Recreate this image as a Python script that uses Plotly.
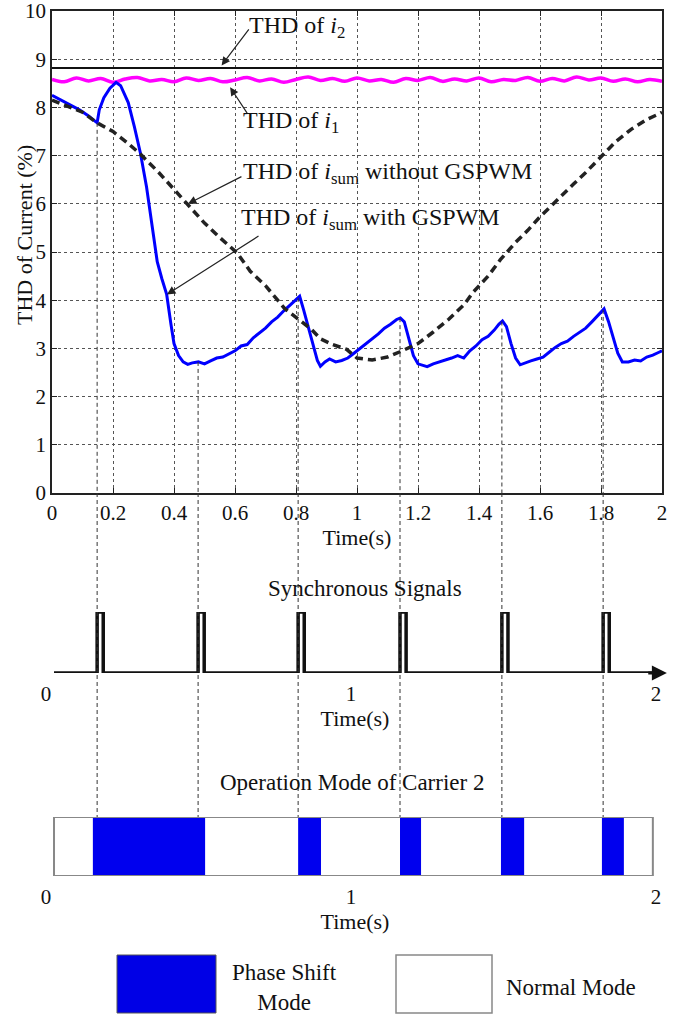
import numpy as np
import plotly.graph_objects as go

FONT = "Liberation Serif, Times New Roman, serif"

# ---------------- data (top panel) ----------------
blue_t = [0, 0.03, 0.06, 0.09, 0.12, 0.148, 0.155, 0.17, 0.19, 0.21, 0.225, 0.25, 0.27, 0.29, 0.31,
          0.33, 0.345, 0.36, 0.376, 0.39, 0.40, 0.415, 0.43, 0.445, 0.46, 0.48, 0.50, 0.52, 0.54, 0.56,
          0.58, 0.60, 0.62, 0.64, 0.66, 0.68, 0.70, 0.72, 0.74, 0.76, 0.78, 0.80, 0.812, 0.825, 0.84,
          0.855, 0.87, 0.88, 0.895, 0.91, 0.93, 0.95, 0.97, 0.99, 1.01, 1.03, 1.05, 1.07, 1.09, 1.11,
          1.13, 1.142, 1.155, 1.17, 1.185, 1.20, 1.215, 1.23, 1.25, 1.27, 1.29, 1.31, 1.33, 1.35, 1.37,
          1.39, 1.41, 1.43, 1.45, 1.465, 1.477, 1.49, 1.505, 1.52, 1.535, 1.55, 1.57, 1.59, 1.61, 1.63,
          1.65, 1.67, 1.69, 1.71, 1.73, 1.75, 1.77, 1.79, 1.81, 1.825, 1.84, 1.855, 1.87, 1.89, 1.91,
          1.93, 1.95, 1.97, 1.99, 2.0]
blue_v = [8.25, 8.15, 8.05, 7.95, 7.82, 7.68, 7.95, 8.2, 8.4, 8.52, 8.45, 8.1, 7.6, 7.05, 6.35,
          5.5, 4.8, 4.45, 4.12, 3.5, 3.1, 2.85, 2.72, 2.67, 2.7, 2.72, 2.68, 2.74, 2.8, 2.82,
          2.88, 2.95, 3.05, 3.08, 3.22, 3.32, 3.42, 3.55, 3.65, 3.78, 3.9, 4.0, 4.08, 3.8, 3.45,
          3.05, 2.75, 2.63, 2.72, 2.78, 2.72, 2.75, 2.8, 2.9, 3.0, 3.1, 3.2, 3.3, 3.42, 3.5,
          3.6, 3.63, 3.55, 3.2, 2.85, 2.68, 2.65, 2.62, 2.68, 2.72, 2.75, 2.8, 2.85, 2.8, 2.95,
          3.05, 3.18, 3.25, 3.38, 3.5, 3.57, 3.45, 3.1, 2.8, 2.66, 2.7, 2.74, 2.78, 2.82, 2.92,
          3.02, 3.1, 3.15, 3.25, 3.33, 3.42, 3.55, 3.68, 3.82, 3.55, 3.2, 2.9, 2.72, 2.72, 2.76,
          2.74, 2.82, 2.86, 2.92, 2.95]

nogs_t = [0, 0.1, 0.148, 0.2, 0.25, 0.29, 0.35, 0.4, 0.446, 0.5, 0.55, 0.607, 0.65, 0.7, 0.764,
          0.8, 0.85, 0.88, 0.92, 0.966, 1.0, 1.05, 1.1, 1.141, 1.2, 1.25, 1.3, 1.35, 1.38, 1.43,
          1.47, 1.52, 1.56, 1.6, 1.65, 1.71, 1.75, 1.81, 1.85, 1.9, 1.95, 1.985, 2.0]
nogs_v = [8.15, 7.9, 7.68, 7.5, 7.25, 7.03, 6.65, 6.3, 6.0, 5.6, 5.3, 4.98, 4.6, 4.3, 3.82,
          3.65, 3.4, 3.2, 3.08, 2.98, 2.8, 2.76, 2.82, 2.93, 3.1, 3.34, 3.6, 3.9, 4.16, 4.5,
          4.84, 5.2, 5.45, 5.73, 6.05, 6.41, 6.65, 7.03, 7.3, 7.55, 7.75, 7.85, 7.9]

i1_t = [0.00, 0.04, 0.08, 0.12, 0.16, 0.20, 0.24, 0.28, 0.32, 0.36, 0.40, 0.44, 0.48, 0.52, 0.56,
        0.60, 0.64, 0.68, 0.72, 0.76, 0.80, 0.84, 0.88, 0.92, 0.96, 1.00, 1.04, 1.08, 1.12, 1.16,
        1.20, 1.24, 1.28, 1.32, 1.36, 1.40, 1.44, 1.48, 1.52, 1.56, 1.60, 1.64, 1.68, 1.72, 1.76,
        1.80, 1.84, 1.88, 1.92, 1.96, 2.00]
i1_v = [8.58, 8.53, 8.61, 8.55, 8.60, 8.52, 8.59, 8.62, 8.55, 8.58,
        8.53, 8.61, 8.56, 8.60, 8.53, 8.57, 8.62, 8.55, 8.59, 8.52,
        8.58, 8.63, 8.56, 8.60, 8.54, 8.61, 8.55, 8.58, 8.52, 8.60,
        8.56, 8.62, 8.54, 8.59, 8.55, 8.61, 8.53, 8.58, 8.56, 8.62,
        8.54, 8.60, 8.55, 8.63, 8.57, 8.61, 8.54, 8.59, 8.53, 8.58, 8.54]

i2_t = [0.0, 2.0]
i2_v = [8.82, 8.82]

# ---------------- data (schematic panels) ----------------
sync_t = [0.148, 0.479, 0.807, 1.141, 1.475, 1.807]   # synchronous signal instants (s)
pulse_w = 0.02
sync_axis = [0.0066, 2.0, 2.016]                       # baseline start, end, arrow tip

mode_start = [0.134, 0.807, 1.141, 1.472, 1.803]       # phase-shift mode intervals
mode_end = [0.502, 0.882, 1.210, 1.548, 1.875]
mode_bar = [0.0066, 1.970]

lower_ticks = [0, 1, 2]

# ---------------- layout geometry ----------------
W, H = 697, 1016
def px_x(p): return p / W
def px_y(p): return (H - p) / H

top_dom_x = [px_x(52), px_x(662)]
top_dom_y = [px_y(493), px_y(11)]
low_dom_x = [px_x(30), px_x(680)]
low_range = [(30 - 52) / 305.0, (680 - 52) / 305.0]
sync_dom_y = [px_y(673), px_y(612)]
mode_dom_y = [px_y(876), px_y(817)]

fig = go.Figure()

# top traces
fig.add_trace(go.Scatter(x=i2_t, y=i2_v, mode="lines", line=dict(color="#111", width=2),
                         xaxis="x", yaxis="y"))
fig.add_trace(go.Scatter(x=i1_t, y=i1_v, mode="lines", line=dict(color="#ff00ff", width=3.5, shape="spline"),
                         xaxis="x", yaxis="y"))
fig.add_trace(go.Scatter(x=blue_t, y=blue_v, mode="lines", line=dict(color="#0000ff", width=3),
                         xaxis="x", yaxis="y"))
fig.add_trace(go.Scatter(x=nogs_t, y=nogs_v, mode="lines",
                         line=dict(color="#222", width=3.5, dash="8px,5px"),
                         xaxis="x", yaxis="y"))

# synchronous pulses
px_, py_ = [sync_axis[0]], [0]
for t in sync_t:
    px_ += [t, t, t + pulse_w, t + pulse_w]
    py_ += [0, 1, 1, 0]
px_.append(sync_axis[1]); py_.append(0)
fig.add_trace(go.Scatter(x=px_, y=py_, mode="lines", line=dict(color="#111", width=3.5),
                         xaxis="x2", yaxis="y2"))

# mode bar
bx, by = [], []
for a, b in zip(mode_start, mode_end):
    bx += [a, b, b, a, a, None]
    by += [0, 0, 1, 1, 0, None]
fig.add_trace(go.Scatter(x=bx, y=by, mode="lines", fill="toself", fillcolor="#0000ee",
                         line=dict(width=0, color="#0000ee"), xaxis="x3", yaxis="y3"))
a, b = mode_bar
fig.add_trace(go.Scatter(x=[a, b, b, a, a], y=[0, 0, 1, 1, 0], mode="lines",
                         line=dict(color="#888", width=2), xaxis="x3", yaxis="y3"))

# dashed guide lines
start_v = np.interp(sync_t, blue_t, blue_v)
shapes = []
for t, v in zip(sync_t, start_v):
    shapes.append(dict(type="line", xref="x", yref="y", x0=t, x1=t, y0=float(v), y1=0,
                       line=dict(color="#333", width=1, dash="4px,3px")))
    shapes.append(dict(type="line", xref="x", yref="paper", x0=t, x1=t,
                       y0=top_dom_y[0], y1=mode_dom_y[1],
                       line=dict(color="#333", width=1, dash="4px,3px")))

# legend boxes
shapes.append(dict(type="rect", xref="paper", yref="paper", x0=px_x(117), x1=px_x(216),
                   y0=px_y(1013), y1=px_y(955), fillcolor="#0000e6", line=dict(color="#555", width=1)))
shapes.append(dict(type="rect", xref="paper", yref="paper", x0=px_x(396), x1=px_x(492),
                   y0=px_y(1013), y1=px_y(955), fillcolor="white", line=dict(color="#888", width=1.5)))

tf = dict(family=FONT, size=24, color="#111")
lf = dict(family=FONT, size=23, color="#111")
ann = []
# labels
def label(x, y, text, font, xa="left", angle=0):
    ann.append(dict(xref="paper", yref="paper", x=px_x(x), y=px_y(y), xanchor=xa, yanchor="middle",
                    text=text, showarrow=False, font=font, textangle=angle))

label(247, 27, "THD of <i>i</i><sub>2</sub>", tf)
label(241, 122, "THD of <i>i</i><sub>1</sub>", tf)
label(241, 173, "THD of <i>i</i><sub>sum</sub> without GSPWM", tf)
label(239, 219, "THD of <i>i</i><sub>sum</sub> with GSPWM", tf)
# arrows
for (tx, ty, sx, sy) in [(0.556, 8.87, 0.649, 9.65), (0.584, 8.42, 0.643, 7.85),
                         (0.446, 6.0, 0.626, 6.58), (0.377, 4.12, 0.682, 5.35)]:
    ann.append(dict(xref="x", yref="y", axref="x", ayref="y", x=tx, y=ty, ax=sx, ay=sy, text="",
                    showarrow=True, arrowhead=2, arrowsize=1.4, arrowwidth=1.2, arrowcolor="#222",
                    standoff=0, startstandoff=0))
# sync axis arrow
ann.append(dict(xref="x2", yref="y2", axref="x2", ayref="y2", x=sync_axis[2], y=0,
                ax=sync_axis[1] - 0.05, ay=0, text="", showarrow=True, arrowhead=2,
                arrowsize=1.0, arrowwidth=3, arrowcolor="#111", standoff=0))
label(365, 588, "Synchronous Signals", lf, "center")
label(352, 782, "Operation Mode of Carrier 2", lf, "center")
label(284, 987, "Phase Shift<br>Mode", lf, "center")
label(571, 987, "Normal Mode", lf, "center")

tick_font = dict(family=FONT, size=21, color="#111")
title_font = dict(family=FONT, size=22, color="#111")
# y-axis title placed close to the tick labels, as in the original
label(24, 235, "THD of Current (%)", title_font, "center", -90)

top_axis_common = dict(showline=True, linecolor="#222", linewidth=1.5, mirror="ticks",
                       ticks="inside", ticklen=5, tickcolor="#222", showgrid=True,
                       gridcolor="#555", griddash="dot", gridwidth=1, zeroline=False,
                       tickfont=tick_font, automargin=False, ticklabeloverflow="allow")

lower_axis = dict(domain=low_dom_x, range=low_range, tickvals=lower_ticks, ticks="",
                  showline=False, showgrid=False, zeroline=False, tickfont=tick_font,
                  ticklabelshift=-6, ticklabelstandoff=6, automargin=False,
                  title=dict(text="Time(s)", font=title_font, standoff=2))

fig.update_layout(
    width=W, height=H, margin=dict(l=0, r=0, t=0, b=0, autoexpand=False),
    paper_bgcolor="white", plot_bgcolor="white", showlegend=False,
    font=dict(family=FONT, color="#111"),
    xaxis=dict(domain=top_dom_x, range=[0, 2], dtick=0.2, anchor="y",
               title=dict(text="Time(s)", font=title_font, standoff=4), **top_axis_common),
    yaxis=dict(domain=top_dom_y, range=[0, 10], dtick=1, anchor="x", **top_axis_common),
    xaxis2=dict(anchor="y2", **lower_axis),
    yaxis2=dict(domain=sync_dom_y, range=[0, 1], visible=False, anchor="x2"),
    xaxis3=dict(anchor="y3", **lower_axis),
    yaxis3=dict(domain=mode_dom_y, range=[0, 1], visible=False, anchor="x3"),
    shapes=shapes, annotations=ann,
)

fig.write_html("out.html")
